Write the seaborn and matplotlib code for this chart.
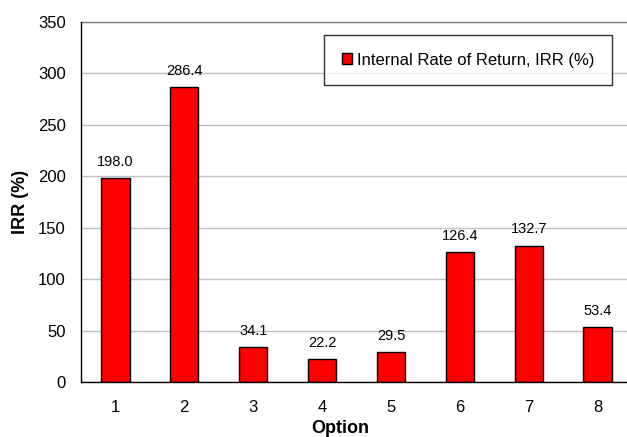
import matplotlib
matplotlib.use("Agg")
import matplotlib.pyplot as plt
import seaborn as sns
import pandas as pd
from matplotlib.ticker import MultipleLocator, FixedLocator
from matplotlib.patches import Patch

options = ["1", "2", "3", "4", "5", "6", "7", "8"]
irr_values = [198.0, 286.4, 34.1, 22.2, 29.5, 126.4, 132.7, 53.4]
series_name = "Internal Rate of Return, IRR (%)"

df = pd.DataFrame({"Option": options, "IRR": irr_values})

sns.set_style("white")
plt.rcParams["font.family"] = ["Liberation Sans", "DejaVu Sans"]
plt.rcParams.update({"text.color": "black", "axes.labelcolor": "black",
                     "xtick.color": "black", "ytick.color": "black"})

fig = plt.figure(figsize=(6.27, 4.37), dpi=100)
W, H = 627, 437
L, R, T, B = 81, 632, 22, 382
ax = fig.add_axes([L / W, 1 - B / H, (R - L) / W, (B - T) / H])

sns.barplot(data=df, x="Option", y="IRR", color="#ff0000", edgecolor="black",
            linewidth=1.0, width=0.41, saturation=1, ax=ax, zorder=3)

ax.set_xlim(-0.5, len(options) - 0.5)
ax.set_ylim(0, 350)
ax.yaxis.set_major_locator(MultipleLocator(50))
ax.grid(axis="y", color="#c0c0c0", linewidth=1.0, zorder=0)
ax.set_axisbelow(True)

# plot-area border in grey, value axes in black
for s in ["top", "right"]:
    ax.spines[s].set_color("#808080")
    ax.spines[s].set_linewidth(1.0)
for s in ["left", "bottom"]:
    ax.spines[s].set_color("black")
    ax.spines[s].set_linewidth(1.0)
    ax.spines[s].set_zorder(4)

# tick marks sit on category boundaries, labels centred under bars
ax.xaxis.set_minor_locator(FixedLocator([i - 0.5 for i in range(len(options) + 1)]))
ax.tick_params(axis="x", which="major", length=0, pad=13, labelsize=12, labelcolor="black")
ax.tick_params(axis="x", which="minor", length=5, width=1, color="black", direction="out")
ax.tick_params(axis="y", which="major", length=6, width=1, color="black",
               direction="out", labelsize=12, pad=5, labelcolor="black")

for i, v in enumerate(irr_values):
    ax.annotate(f"{v:.1f}", xy=(i, v), xytext=(0, 6.5), textcoords="offset points",
                ha="center", va="bottom", fontsize=10.5, color="black")

ax.set_xlabel("Option", fontsize=13, fontweight="bold", color="black")
ax.set_ylabel("IRR (%)", fontsize=13, fontweight="bold", color="black")
ax.xaxis.set_label_coords((340 - L) / (R - L), -(420 - B) / (B - T))
ax.yaxis.set_label_coords((29 - L) / (R - L), 0.5)

handle = Patch(facecolor="#ff0000", edgecolor="black", linewidth=1.0)
leg = ax.legend([handle], [series_name], loc="upper left",
                bbox_to_anchor=((324 - L) / (R - L), 1 - (35 - T) / (B - T)),
                fontsize=12, frameon=True, fancybox=False, handlelength=0.65,
                handleheight=0.65, handletextpad=0.3, borderpad=1.05,
                borderaxespad=0, labelcolor="black")
leg.get_frame().set_edgecolor("black")
leg.get_frame().set_linewidth(1.0)

fig.savefig("out.png", dpi=100)
